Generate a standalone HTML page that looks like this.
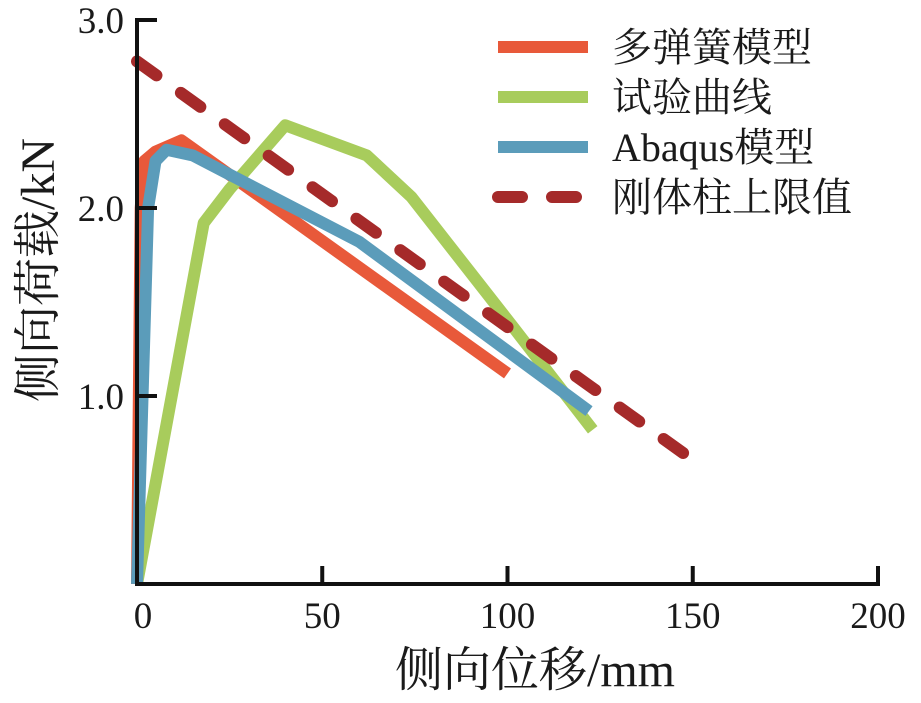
<!DOCTYPE html>
<html><head><meta charset="utf-8"><style>
body{margin:0;background:#fff}
text{font-family:"Liberation Serif","Noto Serif CJK SC",serif;fill:#1a1a1a}
</style></head><body>
<svg id="c" width="921" height="698" xmlns="http://www.w3.org/2000/svg"></svg>
<script>
const xTicks=[0,50,100,150,200];
const yTicks=[1.0,2.0,3.0];
const seriesNames=["多弹簧模型","试验曲线","Abaqus模型","刚体柱上限值"];
const redX=[0,1,2,5,12,100];
const redY=[0,2.0,2.25,2.3,2.36,1.12];
const greenX=[0,18,25,40,62,74,101,123];
const greenY=[0,1.92,2.1,2.44,2.28,2.06,1.38,0.82];
const blueX=[0,1.5,3,5,8,15,60,122];
const blueY=[0,1.0,2.0,2.25,2.31,2.28,1.82,0.92];
const dashX=[0,150];
const dashY=[2.78,0.66];
const sx=v=>137+v*3.705, sy=v=>584-v*188;
const svg=document.getElementById('c'),NS='http://www.w3.org/2000/svg';
function mk(t,a,p){const e=document.createElementNS(NS,t);for(const k in a)e.setAttribute(k,a[k]);(p||svg).appendChild(e);return e;}
function line(xs,ys,col,name,dash){
 const e=mk('polyline',{points:xs.map((x,i)=>sx(x)+','+sy(ys[i])).join(' '),fill:'none',stroke:col,'stroke-width':12,'stroke-linejoin':'round','stroke-linecap':dash?'round':'butt'});
 if(dash)e.setAttribute('stroke-dasharray',dash);
 
 
}
line(redX,redY,'#e8593a','series-multi-spring');
line(greenX,greenY,'#a8cc5c','series-test-curve');
line(blueX,blueY,'#5b9cba','series-abaqus');
line(dashX,dashY,'#a52a2a','series-rigid-limit','24 30');
const ax=mk('path',{d:`M${sx(0)},18 V584 H${sx(200)+2}`,fill:'none',stroke:'#111','stroke-width':4});


yTicks.forEach(v=>{
 const t=mk('line',{x1:sx(0),x2:sx(0)+20,y1:sy(v),y2:sy(v),stroke:'#111','stroke-width':4});
 
 
 const l=mk('text',{x:124,y:sy(v)+13,'text-anchor':'end','font-size':37});
 l.textContent=v.toFixed(1);
 
 
});
xTicks.forEach(v=>{
 if(v>0){const t=mk('line',{x1:sx(v),x2:sx(v),y1:584,y2:566,stroke:'#111','stroke-width':4});
 
 }
 const l=mk('text',{x:sx(v)+(v==0?6:0),y:628,'text-anchor':'middle','font-size':37});
 l.textContent=v;
 
 
});
const xt=mk('text',{x:535,y:686,'text-anchor':'middle','font-size':48});
xt.textContent='侧向位移/mm';


const yt=mk('text',{x:0,y:0,'text-anchor':'middle','font-size':48,transform:'translate(54,270) rotate(-90)'});
yt.textContent='侧向荷载/kN';


const cols=['#e8593a','#a8cc5c','#5b9cba','#a52a2a'];
seriesNames.forEach((n,i)=>{
 const y=47+i*50;
 const g=mk('g',{});
 
 
 const ln=mk('line',{x1:498,x2:588,y1:y,y2:y,stroke:cols[i],'stroke-width':12},g);
 if(i==3){ln.setAttribute('stroke-dasharray','24 30');ln.setAttribute('stroke-linecap','round');}
 const t=mk('text',{x:612,y:y+14,'font-size':40},g);
 t.textContent=n;
});
</script>
</body></html>
